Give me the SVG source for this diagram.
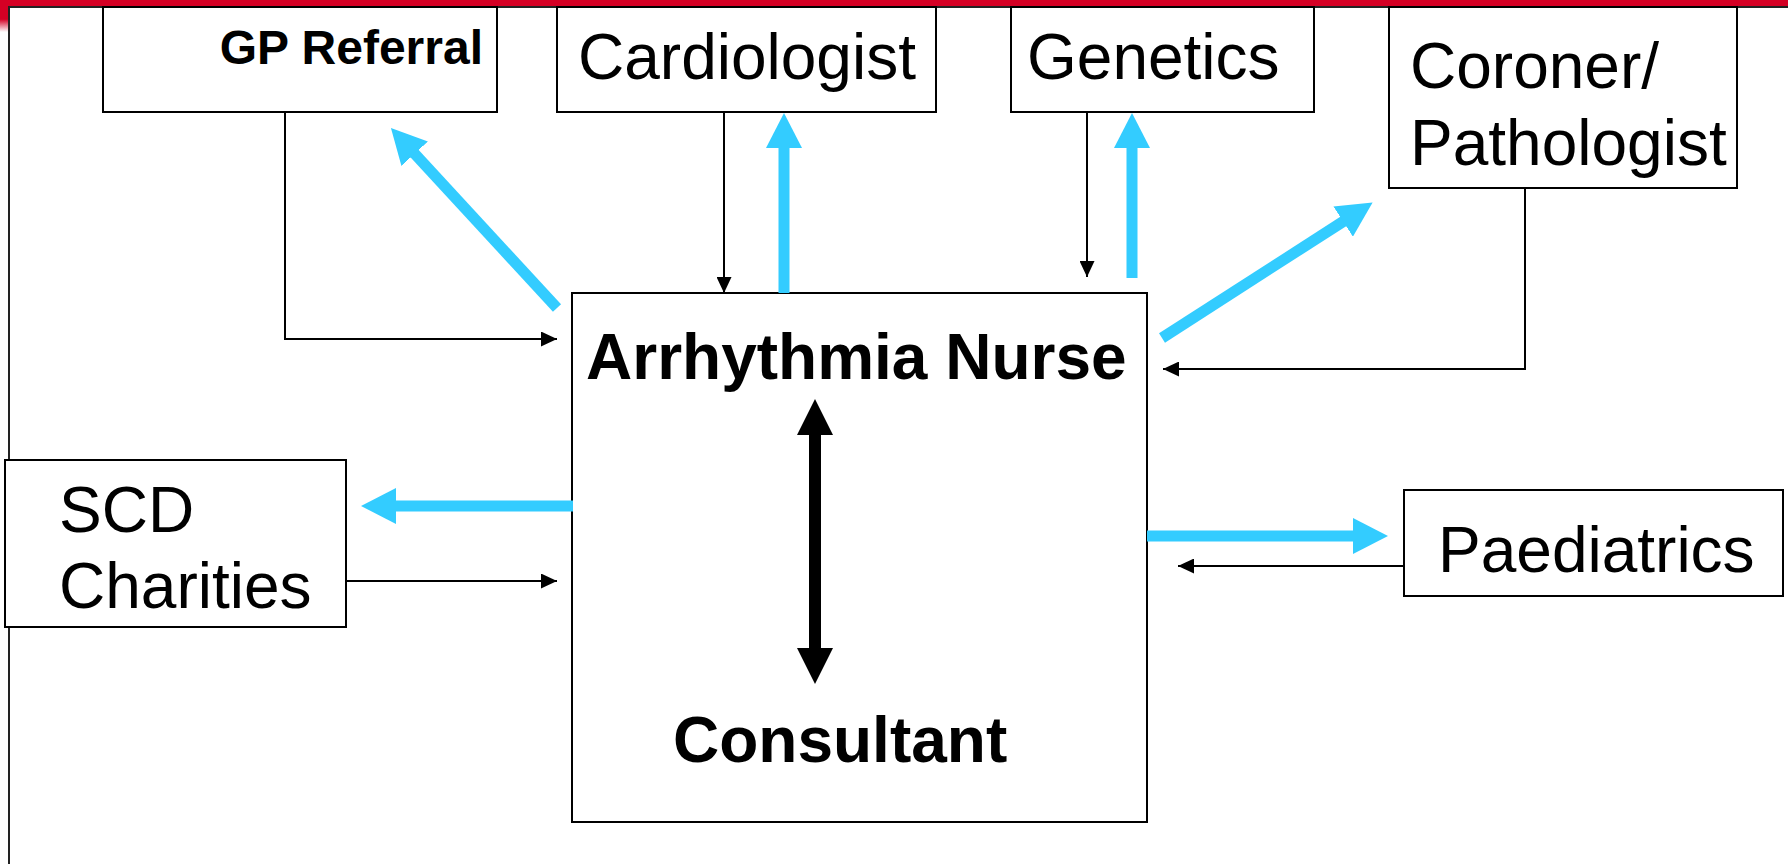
<svg xmlns="http://www.w3.org/2000/svg" width="1788" height="864" viewBox="0 0 1788 864">
<defs>
<linearGradient id="redfade" x1="0" y1="0" x2="0" y2="1">
<stop offset="0" stop-color="#d40024"/>
<stop offset="0.6" stop-color="#d40024"/>
<stop offset="1" stop-color="#ffffff"/>
</linearGradient>
<marker id="blk" viewBox="0 0 16 15" markerWidth="16" markerHeight="15" refX="16" refY="7.5" markerUnits="userSpaceOnUse" orient="auto">
<path d="M0,0 L16,7.5 L0,15 Z" fill="#000"/>
</marker>
<marker id="blu" viewBox="0 0 35 36" markerWidth="35" markerHeight="36" refX="1" refY="18" markerUnits="userSpaceOnUse" orient="auto">
<path d="M0,0 L35,18 L0,36 Z" fill="#33ccff"/>
</marker>
</defs>
<style>
.box{fill:#fff;stroke:#000;stroke-width:2}
.t{font-family:"Liberation Sans",Arial,sans-serif;font-size:64px;fill:#000}
.b{font-weight:bold}
.thin{fill:none;stroke:#000;stroke-width:2;marker-end:url(#blk)}
.blue{fill:none;stroke:#33ccff;stroke-width:11;marker-end:url(#blu)}
</style>
<rect x="0" y="0" width="1788" height="864" fill="#fff"/>
<rect x="0" y="0" width="1788" height="6" fill="#d40024"/>
<rect x="0" y="0" width="8" height="32" fill="url(#redfade)"/>
<line x1="8" y1="7" x2="1788" y2="7" stroke="#222" stroke-width="2"/>
<line x1="9" y1="7" x2="9" y2="864" stroke="#222" stroke-width="2"/>

<g id="gp">
<rect class="box" x="103" y="7" width="394" height="105"/>
<text class="t b" x="483" y="64" text-anchor="end" style="font-size:48px">GP Referral</text>
</g>
<g id="cardiologist">
<rect class="box" x="557" y="7" width="379" height="105"/>
<text class="t" x="578" y="79">Cardiologist</text>
</g>
<g id="genetics">
<rect class="box" x="1011" y="7" width="303" height="105"/>
<text class="t" x="1027" y="79">Genetics</text>
</g>
<g id="coroner">
<rect class="box" x="1389" y="7" width="348" height="181"/>
<text class="t" x="1410" y="88">Coroner/</text>
<text class="t" x="1410" y="165">Pathologist</text>
</g>
<g id="nurse">
<rect class="box" x="572" y="293" width="575" height="529"/>
<text class="t b" x="586" y="379">Arrhythmia Nurse</text>
<text class="t b" x="673" y="762">Consultant</text>
</g>
<g id="scd">
<rect class="box" x="5" y="460" width="341" height="167"/>
<text class="t" x="59" y="532">SCD</text>
<text class="t" x="59" y="608">Charities</text>
</g>
<g id="paediatrics">
<rect class="box" x="1404" y="490" width="379" height="106"/>
<text class="t" x="1438" y="572">Paediatrics</text>
</g>

<g id="connectors">
<path class="thin" d="M285,112 V339 H557"/>
<path class="thin" d="M724,112 V293"/>
<path class="thin" d="M1087,112 V277"/>
<path class="thin" d="M1525,188 V369 H1163"/>
<path class="thin" d="M346,581 H557"/>
<path class="thin" d="M1404,566 H1178"/>
<path class="blue" d="M557,308 L414,153"/>
<path class="blue" d="M784,293 V147"/>
<path class="blue" d="M1132,278 V147"/>
<path class="blue" d="M1162,338 L1344,221"/>
<path class="blue" d="M573,506 H395"/>
<path class="blue" d="M1147,536 H1354"/>
<path d="M815,399 L833,435 L821,435 L821,648 L833,648 L815,684 L797,648 L809,648 L809,435 L797,435 Z" fill="#000"/>
</g>
</svg>
